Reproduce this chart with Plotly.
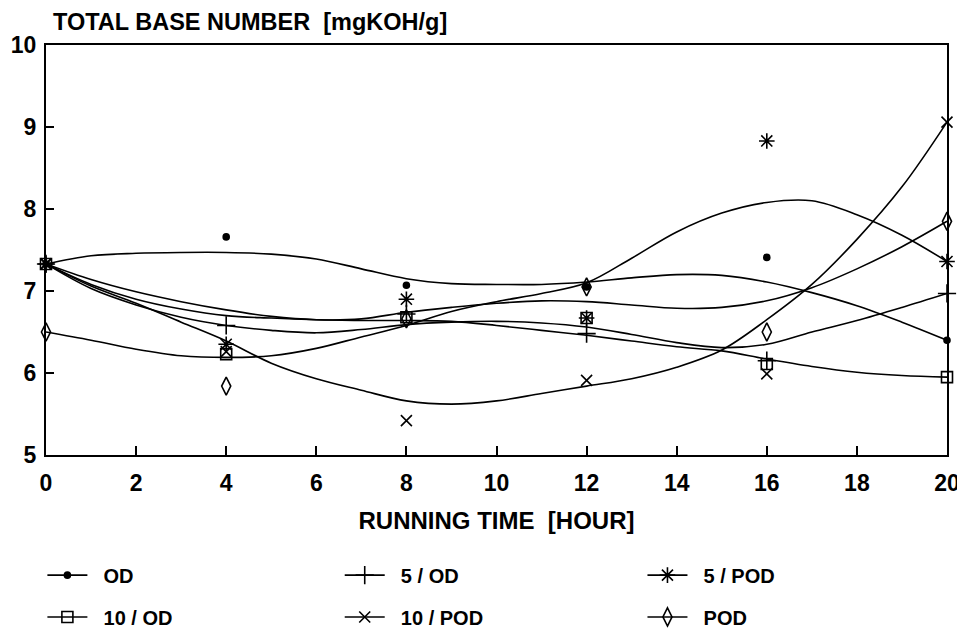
import plotly.graph_objects as go

# ---- measured data points (hours, TBN mgKOH/g) ----
hours = [0, 4, 8, 12, 16, 20]
od = [7.33, 7.66, 7.07, 7.05, 7.41, 6.40]
od5 = [7.33, 6.58, 6.72, 6.48, 6.15, 6.97]
pod5 = [7.33, 6.35, 6.90, 6.67, 8.83, 7.36]
od10 = [7.33, 6.23, 6.68, 6.67, 6.11, 5.95]
pod10 = [7.33, 6.26, 5.42, 5.91, 5.99, 9.06]
pod = [6.50, 5.84, 6.66, 7.05, 6.50, 7.85]

# ---- fitted curves at every hour ----
curve_t = list(range(21))
fit_od = [7.33, 7.43, 7.46, 7.47, 7.47, 7.45, 7.39, 7.27, 7.15, 7.09, 7.08,
          7.08, 7.11, 7.16, 7.20, 7.19, 7.11, 6.98, 6.82, 6.62, 6.40]
fit_od5 = [7.33, 7.03, 6.83, 6.68, 6.58, 6.52, 6.49, 6.53, 6.59, 6.62, 6.63,
           6.61, 6.56, 6.47, 6.37, 6.31, 6.35, 6.50, 6.64, 6.80, 6.97]
fit_pod5 = [7.33, 7.14, 6.99, 6.87, 6.77, 6.69, 6.65, 6.66, 6.74, 6.80, 6.85,
            6.88, 6.87, 6.83, 6.79, 6.80, 6.88, 7.04, 7.27, 7.54, 7.85]
fit_od10 = [7.33, 7.08, 6.90, 6.78, 6.70, 6.67, 6.65, 6.64, 6.64, 6.63, 6.58,
            6.52, 6.46, 6.39, 6.32, 6.27, 6.17, 6.08, 6.01, 5.97, 5.95]
fit_pod10 = [7.33, 7.06, 6.85, 6.62, 6.39, 6.12, 5.93, 5.79, 5.66, 5.62, 5.66,
             5.75, 5.84, 5.93, 6.07, 6.28, 6.65, 7.08, 7.63, 8.27, 9.06]
fit_pod = [6.50, 6.40, 6.29, 6.21, 6.19, 6.21, 6.30, 6.44, 6.58, 6.75, 6.87,
           6.97, 7.10, 7.40, 7.72, 7.95, 8.08, 8.10, 7.93, 7.68, 7.36]

x_ticks = [0, 2, 4, 6, 8, 10, 12, 14, 16, 18, 20]
y_ticks = [5, 6, 7, 8, 9, 10]

names = ["OD", "5 / OD", "5 / POD", "10 / OD", "10 / POD", "POD"]
points = [od, od5, pod5, od10, pod10, pod]
fits = [fit_od, fit_od5, fit_pod5, fit_od10, fit_pod10, fit_pod]
symbols = ["circle", "cross-thin-open", "asterisk-open", "square-open",
           "x-thin-open", "diamond-tall-open"]
sizes = [6, 13, 13, 11, 11, 13]
legend_ids = ["legend", "legend2", "legend3", "legend4", "legend5", "legend6"]
legend_x = [-0.004, 0.326, 0.662, -0.004, 0.326, 0.662]
legend_y = [-0.293, -0.293, -0.293, -0.395, -0.395, -0.395]

FONT = "Liberation Sans, Arial, sans-serif"
NBSP = "\u00a0"
fig = go.Figure()

for f in fits:
    fig.add_trace(go.Scatter(x=curve_t, y=f, mode="lines",
                             line=dict(color="black", width=1.6, shape="spline", smoothing=1.0),
                             showlegend=False, hoverinfo="skip"))

for nm, p, s, sz in zip(names, points, symbols, sizes):
    fig.add_trace(go.Scatter(x=hours, y=p, mode="markers", name=nm, showlegend=False,
                             cliponaxis=False,
                             marker=dict(symbol=s, size=sz, color="black",
                                         line=dict(color="black", width=1.6))))

# legend entries
for nm, s, sz, lg in zip(names, symbols, sizes, legend_ids):
    fig.add_trace(go.Scatter(x=[None], y=[None], mode="lines+markers",
                             name=NBSP * 2 + nm, legend=lg,
                             line=dict(color="black", width=1.6),
                             marker=dict(symbol=s, size=sz, color="black",
                                         line=dict(color="black", width=1.6))))

legend_layout = {}
for lg, lx, ly in zip(legend_ids, legend_x, legend_y):
    legend_layout[lg] = dict(orientation="h", xanchor="left", yanchor="middle",
                             x=lx, y=ly,
                             font=dict(family=FONT, size=20, color="black", weight="bold"),
                             bgcolor="rgba(0,0,0,0)", itemwidth=40)

# the page body adds an 8 px offset, so the figure is 8 px smaller and margins shifted
fig.update_layout(
    width=957, height=627,
    margin=dict(l=38, r=18, t=37, b=180, autoexpand=False),
    paper_bgcolor="white", plot_bgcolor="white",
    xaxis=dict(range=[0, 20], tickvals=x_ticks, ticks="inside", ticklen=9, tickwidth=1.5,
               tickcolor="black", showline=True, linecolor="black", linewidth=2,
               mirror=True, showgrid=False, zeroline=False, automargin=False,
               tickfont=dict(family=FONT, size=23, color="black", weight="bold"),
               ticklabelstandoff=6,
               title=dict(text="RUNNING TIME  [HOUR]", standoff=18,
                          font=dict(family=FONT, size=24, color="black", weight="bold"))),
    yaxis=dict(range=[5, 10], tickvals=y_ticks, ticks="inside", ticklen=8, tickwidth=1.5,
               tickcolor="black", showline=True, linecolor="black", linewidth=2,
               mirror=True, showgrid=False, zeroline=False, automargin=False,
               tickfont=dict(family=FONT, size=23, color="black", weight="bold"),
               ticklabelstandoff=3),
    annotations=[dict(text="TOTAL BASE NUMBER  [mgKOH/g]", xref="paper", yref="paper",
                      x=0.005, y=1.0, xanchor="left", yanchor="bottom", yshift=8,
                      showarrow=False,
                      font=dict(family=FONT, size=23.5, color="black", weight="bold"))],
    **legend_layout,
)

fig.write_html("out.html")
